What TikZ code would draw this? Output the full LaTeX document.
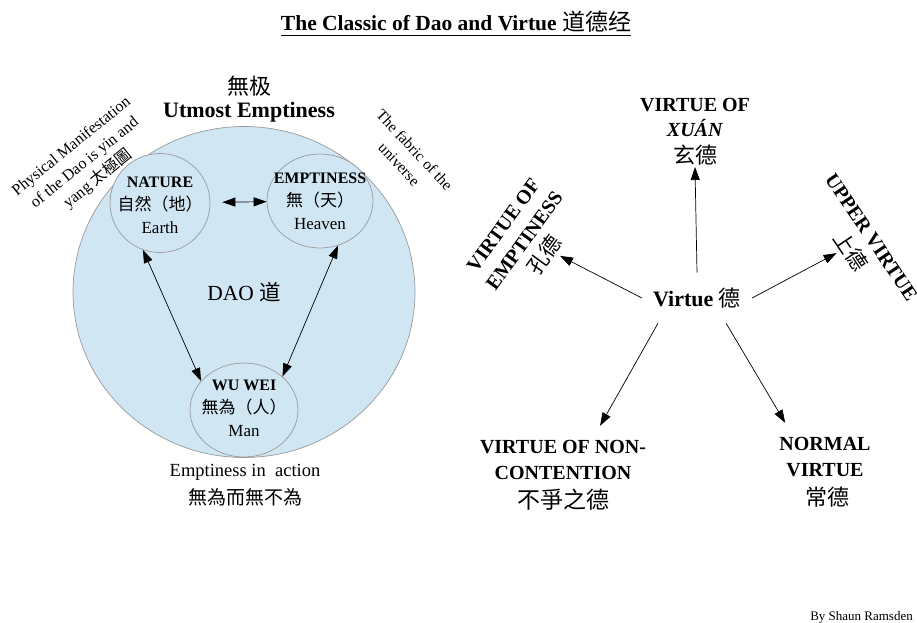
\documentclass[tikz,border=0pt]{standalone}
\usepackage{fontspec}
\setmainfont{Liberation Serif}
\newfontfamily\cjk{Noto Sans CJK SC}
\usetikzlibrary{shapes.geometric,arrows.meta}
\definecolor{daoblue}{HTML}{D1E6F3}
\definecolor{rimgray}{HTML}{999999}
\newcommand{\setfs}[2]{\fontsize{#1}{#2}\selectfont}

\begin{document}
\begin{tikzpicture}[x=1pt,y=-1pt,
  orb/.style={ellipse,draw=rimgray,fill=daoblue,line width=0.7pt,inner sep=0pt},
  twoway/.style={{Triangle[length=13pt,width=9pt]}-{Triangle[length=13pt,width=9pt]},line width=0.7pt},
  oneway/.style={-{Triangle[length=13pt,width=9pt]},line width=0.7pt},
  orblbl/.style={align=center,font=\setfs{17}{23}},
  virtuelbl/.style={align=center,font=\bfseries\setfs{20}{26}}]
\useasboundingbox (0,0) rectangle (917,622);

% title
\node[inner sep=0pt] (title) at (456,22) {\setfs{21.5}{24}\bfseries The Classic of Dao and Virtue {\cjk\mdseries\setfs{23}{24}道德经}};
\draw[line width=1.2pt] ([yshift=-5pt]title.base west) -- ([yshift=-5pt]title.base east);

% the Dao
\node[orb,minimum width=342,minimum height=331,font=\setfs{21.5}{24}] (dao) at (244,292) {DAO {\cjk 道}};
\node[orb,minimum width=100,minimum height=99] (nature) at (160,203) {};
\node[orb,minimum width=106,minimum height=94] (emptiness) at (320,201) {};
\node[orb,minimum width=108,minimum height=94] (wuwei) at (244,410) {};
\node[orblbl] (naturelbl) at (160,205) {{\bfseries\setfs{16}{23}NATURE}\\{\cjk 自然（地）}\\Earth};
\node[orblbl] (emptinesslbl) at (320,201) {{\bfseries\setfs{16}{23}EMPTINESS}\\{\cjk 無（天）}\\Heaven};
\node[orblbl] (wuweilbl) at (244,408) {{\bfseries\setfs{16}{23}WU WEI}\\{\cjk 無為（人）}\\Man};

\draw[twoway,shorten <=12pt] (nature) -- (emptiness);
\draw[twoway] (nature.-110) -- (wuwei.146);
\draw[twoway] (emptiness.-68) -- (wuwei.41);

\node (wuji) at (249,86) {\cjk\setfs{22}{24}無极};
\node (utmost) at (249,112) {\bfseries\setfs{22}{24}Utmost Emptiness};
\node[align=center,rotate=39,font=\setfs{16}{21}] (taiji) at (85,163) {Physical Manifestation\\of the Dao is yin and\\yang {\cjk 太極圖}};
\node[align=center,rotate=-47,font=\setfs{15.5}{21}] (fabric) at (407,157) {The fabric of the\\universe};
\node (action) at (245,472) {\setfs{18.5}{22}Emptiness in\ \ action};
\node (wuwei2) at (245,497) {\cjk\setfs{19}{22}無為而無不為};

% virtue
\node[font=\bfseries\setfs{22}{24},inner xsep=11pt,inner ysep=15pt] (virtue) at (697,298) {Virtue {\cjk\mdseries 德}};
\node[virtuelbl,anchor=south,inner sep=2pt,font=\bfseries\setfs{20}{25}] (xuan) at (695,167) {VIRTUE OF\\\textit{XUÁN}\\[2pt]{\cjk\mdseries\setfs{22}{26}玄德}};
\node[virtuelbl,rotate=54] (kongde) at (525,241) {VIRTUE OF\\EMPTINESS\\{\cjk\mdseries\setfs{21}{26}孔德}};
\node[virtuelbl,rotate=-56] (shangde) at (860,245) {UPPER VIRTUE\\{\cjk\mdseries\setfs{21}{26}上德}};
\node[virtuelbl,inner ysep=14pt] (buzheng) at (563,475) {VIRTUE OF NON-\\CONTENTION\\[3pt]{\cjk\mdseries\setfs{23}{26}不爭之德}};
\node[virtuelbl,inner ysep=14pt] (changde) at (825,472) {NORMAL\\VIRTUE\\[3pt]{\cjk\mdseries\setfs{22}{26}\ 常德}};

\draw[oneway] (virtue.north) -- (xuan.south);
\draw[oneway] (virtue.west) -- (kongde.-77);
\draw[oneway] (virtue.east) -- (shangde.-105);
\draw[oneway] (virtue.-147) -- (buzheng.53);
\draw[oneway] (virtue.-41) -- (changde.129);

\node[anchor=base east,inner sep=0pt] (credit) at (913,620) {\setfs{13}{15}By Shaun Ramsden};
\end{tikzpicture}
\end{document}
